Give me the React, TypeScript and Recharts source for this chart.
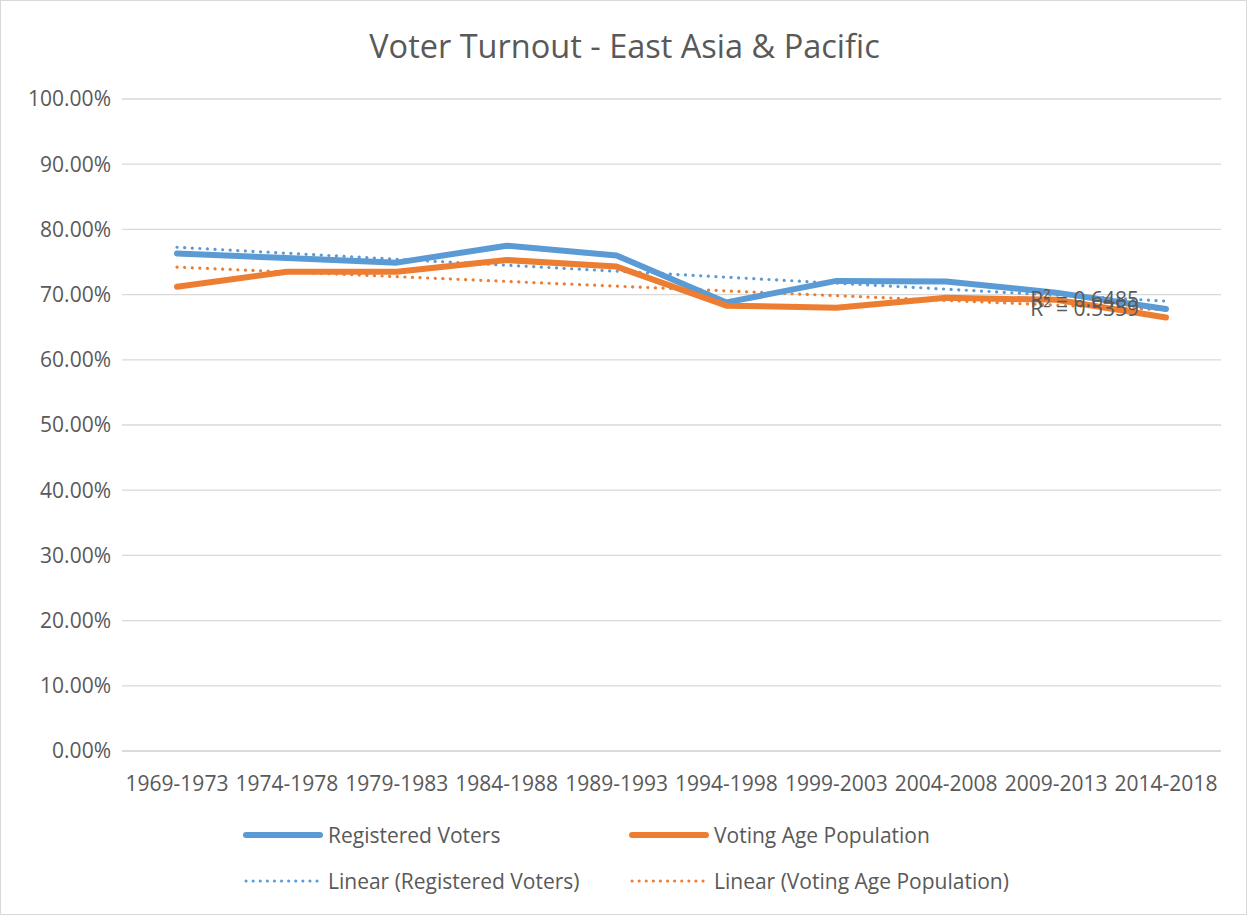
import React from 'react';
import { LineChart, Line, XAxis, YAxis, CartesianGrid, Legend } from 'recharts';

const categories = ['1969-1973', '1974-1978', '1979-1983', '1984-1988', '1989-1993', '1994-1998', '1999-2003', '2004-2008', '2009-2013', '2014-2018'];
const registeredVoters = [76.3, 75.6, 74.9, 77.5, 76.0, 68.8, 72.1, 72.0, 70.3, 67.8];
const votingAgePopulation = [71.2, 73.5, 73.5, 75.3, 74.3, 68.3, 68.0, 69.5, 69.2, 66.5];
const rSquaredLabels = ['R² = 0.6485', 'R² = 0.5359'];
const yTicks = [0, 10, 20, 30, 40, 50, 60, 70, 80, 90, 100];

const BLUE = '#5B9BD5';
const ORANGE = '#ED7D31';
const TEXT = '#595959';
const FONT = '"Open Sans", sans-serif';

// least-squares linear trend (as the spreadsheet's "Linear" trendline)
function linearTrend(values: number[]): number[] {
  const n = values.length;
  const mx = (n - 1) / 2;
  const my = values.reduce((a, b) => a + b, 0) / n;
  let sxy = 0;
  let sxx = 0;
  values.forEach((v, i) => {
    sxy += (i - mx) * (v - my);
    sxx += (i - mx) * (i - mx);
  });
  const slope = sxy / sxx;
  return values.map((_, i) => my + slope * (i - mx));
}

const trendRegistered = linearTrend(registeredVoters);
const trendVoting = linearTrend(votingAgePopulation);

const data = categories.map((c, i) => ({
  period: c,
  registered: registeredVoters[i],
  voting: votingAgePopulation[i],
  trendRegistered: trendRegistered[i],
  trendVoting: trendVoting[i],
}));

const makeR2Label = (text: string) => (props: any) => {
  const { x, y, index } = props;
  if (index !== categories.length - 1) return null;
  return (
    <text x={x - 27} y={y} textAnchor="end" dominantBaseline="middle" fill={TEXT} fontSize={21} fontFamily={FONT}>
      {text}
    </text>
  );
};

const legendItems = [
  { label: 'Registered Voters', color: BLUE, dotted: false, left: 242, top: 34 },
  { label: 'Voting Age Population', color: ORANGE, dotted: false, left: 628, top: 34 },
  { label: 'Linear (Registered Voters)', color: BLUE, dotted: true, left: 242, top: 80 },
  { label: 'Linear (Voting Age Population)', color: ORANGE, dotted: true, left: 628, top: 80 },
];

const CustomLegend = () => (
  <div style={{ position: 'relative', width: 1247, height: 113 }}>
    {legendItems.map((it) => (
      <div key={it.label} style={{ position: 'absolute', left: it.left, top: it.top - 14, height: 28, display: 'flex', alignItems: 'center' }}>
        <svg width={80} height={10} style={{ display: 'block' }}>
          {it.dotted ? (
            <line x1={3} y1={5} x2={77} y2={5} stroke={it.color} strokeWidth={3} strokeDasharray="0.1 7" strokeLinecap="round" />
          ) : (
            <line x1={3} y1={5} x2={77} y2={5} stroke={it.color} strokeWidth={6} strokeLinecap="round" />
          )}
        </svg>
        <span style={{ marginLeft: 5, fontFamily: FONT, fontSize: 21, color: TEXT, whiteSpace: 'nowrap' }}>{it.label}</span>
      </div>
    ))}
  </div>
);

export default function App() {
  return (
    <div style={{ position: 'absolute', left: 0, top: 0, width: 1247, height: 915, background: '#fff', boxSizing: 'border-box', border: '1px solid #d9d9d9' }}>
      <div style={{ position: 'absolute', left: 0, top: 23, width: 1247, textAlign: 'center', fontFamily: FONT, fontSize: 32.5, color: TEXT, lineHeight: '44px' }}>
        Voter Turnout - East Asia &amp; Pacific
      </div>
      <LineChart width={1245} height={913} data={data} margin={{ top: 98, right: 25, bottom: 0, left: 0 }}>
        <CartesianGrid vertical={false} stroke="#d9d9d9" strokeWidth={1.3} />
        <XAxis
          dataKey="period"
          padding={{ left: 55, right: 55 }}
          axisLine={{ stroke: '#d9d9d9', strokeWidth: 1.3 }}
          tickLine={false}
          tickMargin={19}
          height={50}
          interval={0}
          tick={{ fill: TEXT, fontSize: 21, fontFamily: FONT }}
        />
        <YAxis
          domain={[0, 100]}
          ticks={yTicks}
          width={121}
          axisLine={false}
          tickLine={false}
          tickSize={0}
          tickMargin={11}
          tickFormatter={(v: number) => v.toFixed(2) + '%'}
          tick={{ fill: TEXT, fontSize: 21, fontFamily: FONT }}
        />
        <Legend verticalAlign="bottom" content={() => <CustomLegend />} />
        <Line dataKey="trendRegistered" name="Linear (Registered Voters)" stroke={BLUE} strokeWidth={3.2} strokeDasharray="0.1 7.5" strokeLinecap="round" dot={false} activeDot={false} isAnimationActive={false} label={makeR2Label(rSquaredLabels[0])} />
        <Line dataKey="trendVoting" name="Linear (Voting Age Population)" stroke={ORANGE} strokeWidth={3.2} strokeDasharray="0.1 7.5" strokeLinecap="round" dot={false} activeDot={false} isAnimationActive={false} label={makeR2Label(rSquaredLabels[1])} />
        <Line dataKey="registered" name="Registered Voters" stroke={BLUE} strokeWidth={6} strokeLinecap="round" strokeLinejoin="round" dot={false} activeDot={false} isAnimationActive={false} />
        <Line dataKey="voting" name="Voting Age Population" stroke={ORANGE} strokeWidth={6} strokeLinecap="round" strokeLinejoin="round" dot={false} activeDot={false} isAnimationActive={false} />
      </LineChart>
    </div>
  );
}
